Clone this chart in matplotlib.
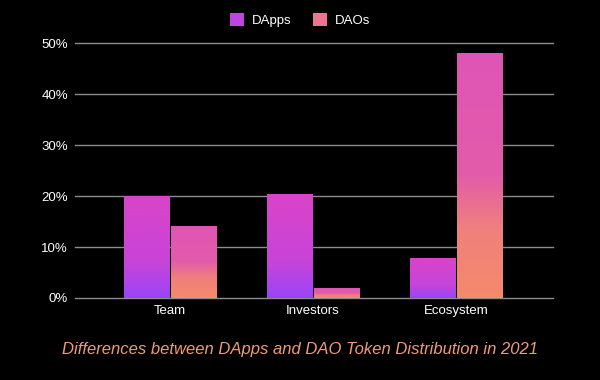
import numpy as np
import matplotlib
matplotlib.use("Agg")
import matplotlib.pyplot as plt
from matplotlib.colors import LinearSegmentedColormap
from matplotlib.patches import Patch

# data
categories = ["Team", "Investors", "Ecosystem"]
dapps = [20.0, 20.2, 7.8]
daos = [14.1, 1.8, 48.0]
yticks = [0, 10, 20, 30, 40, 50]

plt.rcParams["font.family"] = ["Liberation Sans", "DejaVu Sans"]

fig = plt.figure(figsize=(6, 3.8), dpi=100, facecolor="black")
ax = fig.add_axes([0.125, 0.2158, 0.797, 0.671], facecolor="black")

# gradients go bottom -> top within each bar
cm_dapps = LinearSegmentedColormap.from_list(
    "dapps", [(0, "#9a45f8"), (0.35, "#c744d8"), (1, "#d944c8")])
cm_daos = LinearSegmentedColormap.from_list(
    "daos", [(0, "#f58a6c"), (0.28, "#f0807c"), (0.5, "#e35ca9"), (1, "#df55b6")])

x = np.arange(len(categories))
w = 0.315
off = 0.165
b1 = ax.bar(x - off, dapps, w, color="none", linewidth=0)
b2 = ax.bar(x + off, daos, w, color="none", linewidth=0)

grad = np.linspace(0, 1, 256).reshape(-1, 1)
for bars, cmap in [(b1, cm_dapps), (b2, cm_daos)]:
    for r in bars:
        x0, h = r.get_x(), r.get_height()
        ax.imshow(grad, cmap=cmap, origin="lower", aspect="auto",
                  extent=[x0, x0 + r.get_width(), 0, h], zorder=3)

ax.set_xlim(-0.664, 2.678)
ax.set_ylim(0, 50)
ax.set_yticks(yticks)
ax.set_yticklabels([f"{t}%" for t in yticks], color="white", fontsize=9.5)
ax.set_xticks(x)
ax.set_xticklabels(categories, color="white", fontsize=9.5)
ax.tick_params(axis="both", length=0)
ax.tick_params(axis="y", pad=5)
ax.tick_params(axis="x", pad=5)
ax.grid(axis="y", color="#8c8c8c", linewidth=1)
for gl in ax.get_ygridlines():
    gl.set_clip_on(False)
ax.set_axisbelow(True)
for s in ax.spines.values():
    s.set_visible(False)

handles = [Patch(facecolor="#bf45e0", edgecolor="none", label="DApps"),
           Patch(facecolor="#ec7592", edgecolor="none", label="DAOs")]
leg = fig.legend(handles=handles, loc="center", bbox_to_anchor=(0.5, 0.947),
                 ncol=2, frameon=False, fontsize=9.5, handlelength=1.1,
                 handleheight=1.1, handletextpad=0.6, columnspacing=1.6)
for t in leg.get_texts():
    t.set_color("white")

fig.text(0.5, 0.079, "Differences between DApps and DAO Token Distribution in 2021",
         ha="center", va="center", style="italic", color="#f29a78", fontsize=12)

fig.savefig("out.png", dpi=100, facecolor="black")
